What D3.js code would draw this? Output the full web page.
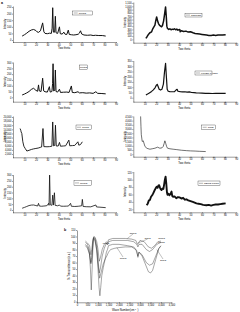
<!DOCTYPE html>
<html>
<head>
<meta charset="utf-8">
<script src="https://cdn.jsdelivr.net/npm/d3@7"></script>
<style>
  body { margin: 0; background: #fff; }
  svg { display: block; font-family: "Liberation Sans", Arial, sans-serif; }
  .axis path, .axis line { stroke: #000; stroke-width: 0.4; }
  .axis text { font-size: 2.6px; fill: #000; }
  .axis-label { font-size: 2.8px; fill: #000; }
  .legend-text { font-size: 2.4px; fill: #000; }
</style>
</head>
<body>
<div id="chart"></div>
<script>
// ---- data: XRD patterns, [two theta, intensity] ----
let thetaTicks = [0, 10, 20, 30, 40, 50, 60, 70, 80, 90]

let cmco = [[8,30],[10,40],[12,52],[14,66],[16,76],[18,80],[20,72],[21,62],[22.3,58],[24,70],[25.9,130],[27,62],[28,50],[30,48],[32,52],[33.5,50],[34.2,90],[34.7,245],[35.3,60],[36.4,60],[37,180],[37.6,55],[39,50],[40.6,100],[41.3,48],[43,45],[44.4,60],[45.5,44],[47,42],[48.3,75],[49.2,42],[51,40],[53,38],[55,40],[57,44],[58,52],[59,70],[60,46],[62,38],[65,36],[68,38],[70,34],[72,36],[75,34],[78,34],[81,30]]
let cmcoTicks = [0, 50, 100, 150, 200, 250]

let pmco = [[8,20],[10,28],[12,38],[14,50],[16,68],[18,78],[20,60],[21.5,52],[22.3,107],[23,55],[24.5,50],[25.9,165],[26.8,55],[28,48],[30,45],[31.8,92],[32.5,45],[34,50],[34.6,120],[35,290],[35.5,55],[36.5,60],[37,236],[37.6,50],[39,45],[40.6,70],[41.5,42],[44,44],[47,45],[49,42],[51,98],[51.8,42],[54,40],[56.8,48],[58,38],[61,40],[64,36],[67,38],[70,34],[72.4,48],[74,34],[77,33],[81,30]]
let pmcoTicks = [0, 50, 100, 150, 200, 250, 300]

let jmco = [[6.2,14400],[6.8,13500],[7.1,12760],[7.7,12000],[8.6,7940],[9.5,5800],[10.6,4750],[12.1,3450],[14,3800],[16,4200],[18,4500],[20,4700],[22,4900],[23.8,5230],[25,5400],[26.2,14400],[27,5600],[29.7,5520],[32,5600],[34,5800],[34.7,17600],[35.4,6000],[36.5,6200],[37.1,16000],[37.8,5900],[39.5,5900],[40.6,7650],[41.5,5800],[44,5900],[46,6000],[48.8,8760],[49.6,6000],[52,6100],[54,6200],[56.7,7940],[57.5,6300],[59,6600],[60.6,7940]]
let jmcoTicks = [2000, 4000, 6000, 8000, 10000, 12000, 14000, 16000, 18000, 20000]

let nmco = [[8,15],[10,22],[12,30],[14,38],[16,42],[18,43],[20,38],[21.5,34],[22.3,57],[23,34],[25,32],[27,34],[29,36],[30,40],[31.1,57],[31.5,40],[32,300],[32.6,45],[34,40],[34.7,128],[35.3,42],[36.2,148],[36.8,40],[39,36],[40.6,43],[41.5,33],[44,32],[47,33],[48.5,34],[50.3,57],[51,32],[54,30],[57,32],[60,36],[60.6,91],[61.3,30],[64,28],[68,27],[72.4,43],[73,26],[76,24],[81,20]]
let nmcoTicks = [0, 50, 100, 150, 200, 250, 300]

let cotton = [[11,30],[12,80],[13,140],[14.5,200],[16,230],[17,320],[18,380],[18.9,430],[19.6,560],[20.4,680],[21.2,560],[22,480],[23,420],[24.7,380],[25.5,420],[26.5,560],[27.5,800],[28.2,980],[28.8,700],[29.3,400],[29.9,330],[31,300],[32,320],[33,290],[34,310],[35,300],[36,320],[37,290],[38,310],[39,280],[40.6,300],[41,230],[42,260],[44,240],[46,250],[48,220],[50,230],[52.2,200],[54,180],[56,170],[58,160],[60,150],[62,140],[64,130],[66,120],[68,120],[70,130],[72,120],[74,130],[76,135],[78,130],[80.7,140]]
let cottonTicks = [0, 100, 200, 300, 400, 500, 600, 700, 800, 900, 1000, 1100]

let filterPaper = [[11,26],[12.5,35],[14,45],[16,60],[17.5,75],[19,95],[20.2,120],[20.9,128],[21.6,110],[22.6,80],[23.8,73],[25,80],[26.3,130],[27.3,250],[28.2,328],[28.9,200],[29.6,80],[30.5,62],[32,58],[34,57],[36,58],[37.5,75],[38.3,80],[39,62],[41,58],[43,56],[45,57],[47,54],[49,55],[51,50],[53,48],[55,46],[57,45],[60,44],[63,42],[66,42],[69,40],[72,42],[75,41],[78,42],[80.7,42]]
let filterTicks = [0, 50, 100, 150, 200, 250, 300, 350]

let jute = [[6.4,4500],[6.7,3300],[7,2330],[7.8,1520],[8.7,1600],[10.2,920],[12,700],[14.5,600],[16.5,650],[18.9,720],[21.2,840],[23.2,720],[25,760],[26.1,920],[27,1300],[27.6,1600],[28.3,1300],[29.2,900],[29.9,720],[32,650],[34.8,600],[38,550],[42,480],[46.5,430],[50,400],[54,380],[58,350],[63.3,320]]
let juteTicks = [0, 500, 1000, 1500, 2000, 2500, 3000, 3500, 4000, 4500]

let newsPrint = [[11.7,31],[12.7,36],[13.6,44],[14.5,45],[15.5,54],[16.5,58],[17.4,63],[18.4,70],[19.4,76],[20.4,81],[21.2,78],[21.9,84],[22.6,85],[23.4,78],[24,74],[24.7,72],[25.5,76],[26.3,75],[27,88],[27.6,100],[28.2,108],[28.8,90],[29.4,66],[29.9,59],[30.8,62],[31.6,58],[32.6,62],[33.4,68],[34,56],[34.8,54],[36,55],[37.5,50],[39,53],[40.6,52],[42,49],[43.5,51],[45,46],[46.5,47],[48,44],[50,42],[52,40],[55.2,36],[57,35],[59,34],[61,32],[63.9,31],[66,32],[68,30],[70,32],[72,33],[74,33],[76,34],[78,35],[80.7,36]]
let newsTicks = [20, 40, 60, 80, 100, 120]

// ---- data: FTIR spectra, [wave number, % transmittance] ----
let waveTicks = [0, 500, 1000, 1500, 2000, 2500, 3000, 3500, 4000, 4500]
let transTicks = [0, 10, 20, 30, 40, 50, 60, 70, 80, 90, 100, 110]

let ftirN = [[400,93],[500,90],[600,86],[660,72],[700,80],[760,96],[800,100],[860,99],[940,92],[1000,80],[1060,62],[1120,68],[1200,80],[1300,88],[1400,92],[1450,90],[1500,95],[1700,97],[2000,97],[2300,97],[2600,96],[2800,94],[2880,88],[2930,90],[3000,94],[3200,92],[3400,84],[3550,82],[3700,86],[3850,92],[4000,93]]
let ftirJ = [[400,91],[500,88],[580,80],[640,50],[680,18],[720,50],[770,95],[800,99],[860,97],[940,85],[1000,65],[1060,44],[1120,52],[1200,70],[1300,82],[1400,90],[1450,87],[1500,92],[1700,94],[2000,94],[2400,94],[2700,92],[2850,88],[2900,84],[2950,88],[3100,88],[3300,80],[3450,77],[3600,80],[3800,88],[4000,91]]
let ftirP = [[400,88],[500,84],[600,74],[660,60],[700,68],[770,94],[800,98],[860,95],[940,80],[1000,50],[1050,22],[1090,9],[1130,22],[1180,40],[1250,52],[1330,64],[1400,76],[1450,80],[1500,86],[1700,88],[2000,88],[2400,86],[2700,84],[2850,78],[2900,68],[2950,76],[3100,70],[3250,58],[3400,46],[3500,44],[3600,48],[3750,65],[3900,82],[4000,86]]
let ftirC = [[400,86],[500,82],[600,72],[660,58],[700,64],[770,92],[800,97],[860,93],[940,78],[1000,58],[1080,36],[1150,45],[1250,58],[1350,66],[1420,70],[1500,76],[1600,80],[1800,82],[2000,83],[2300,84],[2600,84],[2800,80],[2900,70],[2950,76],[3100,72],[3300,60],[3450,56],[3600,58],[3750,70],[3900,82],[4000,85]]

let svg = d3.select("#chart")
            .append("svg")
            .attr("width", 240)
            .attr("height", 312)

// panel label
svg.append('text').attr('x', 1).attr('y', 4).style('font-size', '3.6px').style('font-weight', 'bold').text('a')
svg.append('text').attr('x', 64).attr('y', 230.5).style('font-size', '3.6px').style('font-weight', 'bold').text('b')

// panel layouts
let panels = [
    {data: cmco, name: 'CMCO', ticks: cmcoTicks, yDomain: [-15, 258], left: 13, top: 6, bottom: 42, sw: 1.0, legend: [72.7, 11, 20, 4], line: true},
    {data: pmco, name: 'PMCO', ticks: pmcoTicks, yDomain: [-38, 305], left: 13, top: 62, bottom: 101.7, sw: 1.0, legend: [79.3, 65, 8.5, 4.5], line: false},
    {data: jmco, name: 'JMCO', ticks: jmcoTicks, yDomain: [400, 20500], left: 13, top: 116, bottom: 157.3, sw: 0.9, legend: [76, 125, 15.7, 4.5], line: true},
    {data: nmco, name: 'NMCO', ticks: nmcoTicks, yDomain: [-20, 305], left: 13, top: 174.5, bottom: 212.3, sw: 0.8, legend: [74, 180.7, 17.7, 4.5], line: true},
    {data: cotton, name: 'COTTON', ticks: cottonTicks, yDomain: [-100, 1130], left: 133.3, top: 2, bottom: 42.7, sw: 1.5, legend: [185, 13.2, 17, 3.8], line: true},
    {data: filterPaper, name: 'FILTER PAPER', ticks: filterTicks, yDomain: [-38, 355], left: 133.3, top: 60.5, bottom: 101.7, sw: 1.2, legend: [195, 71, 17, 4], line: true},
    {data: jute, name: 'JUTE', ticks: juteTicks, yDomain: [-290, 4550], left: 133.3, top: 116, bottom: 156.7, sw: 0.6, legend: [201.7, 125, 13.5, 4.6], line: true},
    {data: newsPrint, name: 'NEWS PRINT', ticks: newsTicks, yDomain: [12, 122], left: 133.3, top: 171.5, bottom: 212.3, sw: 1.9, legend: [198, 181, 22, 4.6], line: true}
]

panels.forEach(drawPanel)
drawFtir()

// Draws one XRD pattern with its axes and legend
function drawPanel(p){
    let x = d3.scaleLinear().domain([0, 90]).range([p.left, p.left + 103])
    let y = d3.scaleLinear().domain(p.yDomain).range([p.bottom, p.top])

    svg.append('g')
        .attr('class', 'axis')
        .attr('transform', 'translate(0,' + p.bottom + ')')
        .call(d3.axisBottom(x).tickValues(thetaTicks).tickSize(1).tickSizeOuter(0).tickPadding(0.8)
                .tickFormat(d => d === 0 ? '' : d))
    svg.append('g')
        .attr('class', 'axis')
        .attr('transform', 'translate(' + p.left + ',0)')
        .call(d3.axisLeft(y).tickValues(p.ticks).tickSize(1).tickSizeOuter(0).tickPadding(0.6))
    svg.selectAll('.axis .domain').attr('stroke-width', 0.5)

    svg.append('path')
        .datum(p.data)
        .attr('fill', 'none')
        .attr('stroke', '#111')
        .attr('stroke-width', p.sw)
        .attr('stroke-linejoin', 'round')
        .attr('d', d3.line().x(d => x(d[0])).y(d => y(d[1])))

    // axis labels
    svg.append('text')
        .attr('class', 'axis-label')
        .attr('x', p.left + 51)
        .attr('y', p.bottom + 7.4)
        .style('text-anchor', 'middle')
        .text('Two theta')
    svg.append('text')
        .attr('class', 'axis-label')
        .attr('transform', 'translate(' + (p.left - 7.2) + ',' + ((p.top + p.bottom) / 2) + ') rotate(-90)')
        .style('text-anchor', 'middle')
        .text('Intensity')

    // legend box
    let [lx, ly, lw, lh] = p.legend
    svg.append('rect')
        .attr('x', lx).attr('y', ly).attr('width', lw).attr('height', lh)
        .attr('fill', '#fff').attr('stroke', '#000').attr('stroke-width', 0.3)
    if (p.line) {
        svg.append('line')
            .attr('x1', lx + 1).attr('x2', lx + 5)
            .attr('y1', ly + lh / 2).attr('y2', ly + lh / 2)
            .attr('stroke', '#000').attr('stroke-width', 0.3)
    }
    svg.append('text')
        .attr('class', 'legend-text')
        .attr('x', p.line ? lx + 6 : lx + lw / 2)
        .attr('y', ly + lh / 2 + 0.85)
        .style('text-anchor', p.line ? 'start' : 'middle')
        .text(p.name)
}

// FTIR spectra, all in one frame
function drawFtir(){
    let x = d3.scaleLinear().domain([0, 4500]).range([77, 171.5])
    let y = d3.scaleLinear().domain([-1, 110]).range([302.3, 230])

    svg.append('g')
        .attr('class', 'axis')
        .attr('transform', 'translate(0,302.3)')
        .call(d3.axisBottom(x).tickValues(waveTicks).tickSize(1).tickSizeOuter(0).tickPadding(0.8))
    svg.append('g')
        .attr('class', 'axis')
        .attr('transform', 'translate(77,0)')
        .call(d3.axisLeft(y).tickValues(transTicks).tickSize(1).tickSizeOuter(0).tickPadding(0.6))

    let line = d3.line().x(d => x(d[0])).y(d => y(d[1]))
    let spectra = [ftirN, ftirJ, ftirP, ftirC]
    svg.selectAll('.ftir')
        .data(spectra)
        .enter()
        .append('path')
        .attr('class', 'ftir')
        .attr('fill', 'none')
        .attr('stroke', '#222')
        .attr('stroke-width', 0.4)
        .attr('d', d => line(d))

    // curve tags
    let tags = [
        {t: 'NMCO', x: 133, y: 233.5, to: [2400, 97]},
        {t: 'JMCO', x: 147.5, y: 238.6, to: [2900, 90]},
        {t: 'CMCO', x: 161.5, y: 239.3, to: null},
        {t: 'PMCO', x: 161.5, y: 242.6, to: null},
        {t: 'PMCO', x: 106, y: 243.6, to: null},
        {t: 'CMCO', x: 123, y: 259, to: [1900, 83]},
        {t: 'JMCO', x: 163, y: 261, to: [3800, 80]}
    ]
    tags.forEach(function(g){
        svg.append('text')
            .attr('class', 'legend-text')
            .attr('x', g.x).attr('y', g.y)
            .style('text-anchor', 'middle')
            .style('font-size', '2.2px')
            .text(g.t)
        if (g.to) {
            svg.append('line')
                .attr('x1', g.x).attr('y1', g.y + (y(g.to[1]) > g.y ? 0.5 : -2))
                .attr('x2', x(g.to[0])).attr('y2', y(g.to[1]))
                .attr('stroke', '#000').attr('stroke-width', 0.25)
        }
    })

    svg.append('text')
        .attr('class', 'axis-label')
        .attr('x', 124)
        .attr('y', 311)
        .style('text-anchor', 'middle')
        .text('Wave Number(cm')
        .append('tspan').attr('dy', -1).style('font-size', '1.8px').text('-1')
    svg.append('text')
        .attr('class', 'axis-label')
        .attr('x', 137.5).attr('y', 311)
        .text(')')
    svg.append('text')
        .attr('class', 'axis-label')
        .attr('transform', 'translate(69.5,266) rotate(-90)')
        .style('text-anchor', 'middle')
        .text('% Transmittance (a.u.)')
}
</script>
</body>
</html>
